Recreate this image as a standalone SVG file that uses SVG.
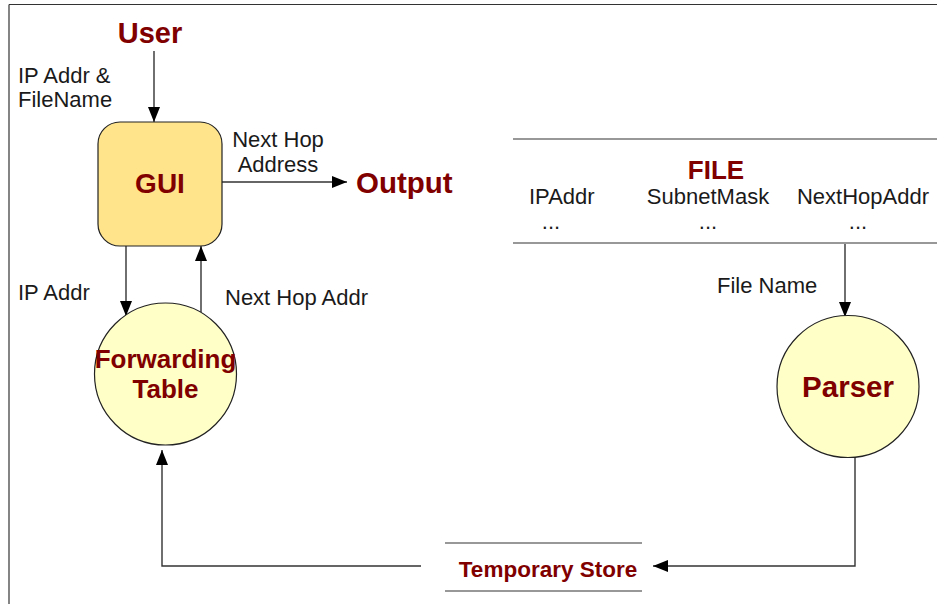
<svg xmlns="http://www.w3.org/2000/svg" width="937" height="604" viewBox="0 0 937 604">
<style>
.lbl{font-family:"Liberation Sans",Arial,sans-serif;font-size:22px;fill:#1a1a1a}
.ttl{font-family:"Liberation Sans",Arial,sans-serif;font-weight:bold;fill:#800000}
.cn{fill:none;stroke:#333;stroke-width:1.4}
.fr{fill:none;stroke:#333;stroke-width:1.2}
.bubble{fill:#ffffc8;stroke:#222;stroke-width:1.2}
</style>
<defs>
<marker id="ah" markerUnits="userSpaceOnUse" markerWidth="16" markerHeight="12" refX="15" refY="6" orient="auto">
<path d="M0,0 L15,6 L0,12 Z" fill="#000"/>
</marker>
</defs>
<g id="frame">
<line class="fr" x1="9" y1="4.5" x2="937" y2="4.5"/>
<line class="fr" x1="9" y1="4.5" x2="9" y2="604"/>
</g>
<g id="connectors">
<line class="cn" x1="154" y1="51" x2="154" y2="122" marker-end="url(#ah)"/>
<line class="cn" x1="222" y1="182" x2="347" y2="182" marker-end="url(#ah)"/>
<line class="cn" x1="126" y1="246" x2="126" y2="316" marker-end="url(#ah)"/>
<line class="cn" x1="201" y1="312" x2="201" y2="246" marker-end="url(#ah)"/>
<line class="cn" x1="845" y1="244" x2="845" y2="317" marker-end="url(#ah)"/>
<polyline class="cn" points="855,456 855,566 653,566" marker-end="url(#ah)"/>
<polyline class="cn" points="421,566 162,566 162,450" marker-end="url(#ah)"/>
</g>
<g id="labels">
<text class="lbl" x="18" y="83">IP Addr &amp;</text>
<text class="lbl" x="18" y="107">FileName</text>
<text class="lbl" x="278" y="147" text-anchor="middle">Next Hop</text>
<text class="lbl" x="278" y="172" text-anchor="middle">Address</text>
<text class="lbl" x="18" y="300">IP Addr</text>
<text class="lbl" x="225" y="305">Next Hop Addr</text>
<text class="lbl" x="717" y="293">File Name</text>
</g>
<g id="user">
<text class="ttl" x="150" y="43" font-size="29" text-anchor="middle">User</text>
</g>
<g id="output">
<text class="ttl" x="356" y="193" font-size="29.5">Output</text>
</g>
<g id="gui">
<rect x="98" y="122" width="124" height="124" rx="22" ry="22" fill="#ffe48c" stroke="#222" stroke-width="1.2"/>
<text class="ttl" x="160" y="193" font-size="28" text-anchor="middle">GUI</text>
</g>
<g id="forwarding-table">
<circle class="bubble" cx="165.5" cy="374" r="71"/>
<text class="ttl" x="165.5" y="368" font-size="26" text-anchor="middle">Forwarding</text>
<text class="ttl" x="165.5" y="398" font-size="26" text-anchor="middle">Table</text>
</g>
<g id="file">
<line class="fr" x1="513" y1="139" x2="937" y2="139"/>
<line class="fr" x1="513" y1="243" x2="937" y2="243"/>
<text class="ttl" x="716" y="179" font-size="26" text-anchor="middle">FILE</text>
<text class="lbl" x="529" y="204">IPAddr</text>
<text class="lbl" x="708" y="204" text-anchor="middle">SubnetMask</text>
<text class="lbl" x="863" y="204" text-anchor="middle">NextHopAddr</text>
<text class="lbl" x="551" y="229" text-anchor="middle">...</text>
<text class="lbl" x="708" y="229" text-anchor="middle">...</text>
<text class="lbl" x="858" y="229" text-anchor="middle">...</text>
</g>
<g id="parser">
<circle class="bubble" cx="848" cy="386.5" r="71"/>
<text class="ttl" x="848" y="397" font-size="29.5" text-anchor="middle">Parser</text>
</g>
<g id="temporary-store">
<line class="fr" x1="445" y1="543" x2="642" y2="543"/>
<line class="fr" x1="445" y1="591" x2="642" y2="591"/>
<text class="ttl" x="548" y="577" font-size="22.5" text-anchor="middle">Temporary Store</text>
</g>
</svg>
